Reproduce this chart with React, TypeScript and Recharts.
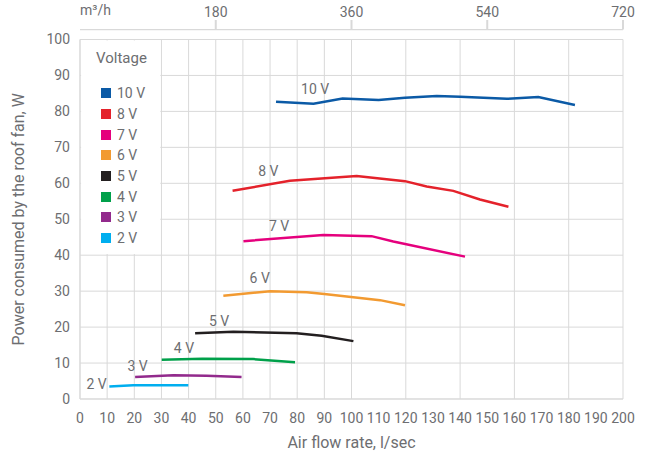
import React from 'react';
import {
  LineChart, Line, XAxis, YAxis, CartesianGrid,
  ReferenceArea, ReferenceDot, Legend,
} from 'recharts';

// series names + colours, same order as the legend
const voltages = ['10 V', '8 V', '7 V', '6 V', '5 V', '4 V', '3 V', '2 V'];
const colors = ['#0b5aa6', '#e4222b', '#e5007d', '#f29a31', '#231f20', '#00a04a', '#922a8c', '#00aeef'];

// air flow (l/sec) and power (W)
const flow10 = [72.2, 86, 96.7, 110, 119.7, 131.4, 140, 157.2, 168.8, 182.3];
const power10 = [82.7, 82.1, 83.6, 83.2, 83.8, 84.3, 84.1, 83.5, 84.0, 81.8];
const flow8 = [56.2, 77.3, 90.2, 101.9, 119.7, 127.7, 137.5, 147.3, 157.8];
const power8 = [57.9, 60.7, 61.4, 62.0, 60.6, 59.1, 57.9, 55.5, 53.5];
const flow7 = [60.2, 89.6, 107.4, 115.4, 141.8];
const power7 = [43.9, 45.6, 45.3, 43.8, 39.6];
const flow6 = [52.8, 70, 83.5, 90, 110.5, 119.7];
const power6 = [28.7, 30.0, 29.7, 29.2, 27.5, 26.1];
const flow5 = [42.4, 56.5, 79.8, 89, 100.7];
const power5 = [18.3, 18.7, 18.3, 17.6, 16.1];
const flow4 = [30.1, 45, 63.8, 79.2];
const power4 = [10.9, 11.2, 11.1, 10.2];
const flow3 = [20.3, 34.4, 46.6, 59.5];
const power3 = [6.1, 6.6, 6.5, 6.1];
const flow2 = [10.8, 19.6, 39.9];
const power2 = [3.5, 3.8, 3.8];

const flows = [flow10, flow8, flow7, flow6, flow5, flow4, flow3, flow2];
const powers = [power10, power8, power7, power6, power5, power4, power3, power2];

// where the "N V" captions sit next to each curve
const labelFlow = [86.6, 69.4, 73.3, 66.2, 51.2, 38.3, 21.2, 6.1];
const labelPower = [86.2, 63.4, 48.2, 33.7, 21.7, 14.1, 9.2, 4.1];

const xTicks = [0, 10, 20, 30, 40, 50, 60, 70, 80, 90, 100, 110, 120, 130, 140, 150, 160, 170, 180, 190, 200];
const yTicks = [0, 10, 20, 30, 40, 50, 60, 70, 80, 90, 100];
const topTicks = [50, 100, 150, 200];
const topTickLabels = ['180', '360', '540', '720'];

const GRID = '#d9d9d9';
const TEXT = '#6d6e71';
const FONT = 'Roboto, sans-serif';

const series = voltages.map((name, i) => ({
  name,
  color: colors[i],
  data: flows[i].map((x, j) => ({ x, y: powers[i][j] })),
}));

const LegendBox = () => (
  <div style={{ fontFamily: FONT, color: TEXT, fontSize: 14 }}>
    <div style={{ fontSize: 15, marginBottom: 16, marginLeft: 1 }}>Voltage</div>
    {series.map(s => (
      <div key={s.name} style={{ display: 'flex', alignItems: 'center', height: 20.7, marginLeft: 6 }}>
        <span style={{ width: 10, height: 10, background: s.color, display: 'inline-block', marginRight: 6 }} />
        <span>{s.name}</span>
      </div>
    ))}
  </div>
);

// top axis: m3/h tick, drawn 10px above the plot frame
const TopTick = (props: any) => {
  const { x, y, payload } = props;
  return (
    <g>
      <line x1={x} x2={x} y1={y - 10} y2={y - 19.5} stroke={GRID} strokeWidth={2} />
      <text x={x} y={y - 22.5} textAnchor="middle" fontSize={14} fill={TEXT} fontFamily={FONT}>
        {topTickLabels[topTicks.indexOf(payload.value)]}
      </text>
    </g>
  );
};

export default function App() {
  return (
    <div style={{ position: 'absolute', left: 0, top: 0, width: 645, height: 454, background: '#fff' }}>
      <div style={{ position: 'absolute', left: 80, top: 2, fontFamily: FONT, fontSize: 14, color: TEXT, zIndex: 2 }}>
        m³/h
      </div>
      <LineChart width={645} height={454} margin={{ top: 0, right: 22, bottom: 0, left: 0 }}
        style={{ fontFamily: FONT }}>
        <CartesianGrid stroke={GRID} strokeWidth={1} />
        <ReferenceArea x1={0.4} x2={29.6} y1={40.3} y2={99.7} fill="#fff" fillOpacity={1} stroke="none" ifOverflow="visible" />
        <XAxis
          dataKey="x" type="number" domain={[0, 200]} ticks={xTicks}
          height={55} tickSize={0} tickMargin={14}
          tick={{ fontSize: 14, fill: TEXT }}
          axisLine={{ stroke: GRID }} tickLine={false}
          label={{ value: 'Air flow rate, l/sec', position: 'insideBottom', offset: 6, fontSize: 16, fill: TEXT }}
        />
        <XAxis
          xAxisId="top" orientation="top" dataKey="x" type="number" domain={[0, 200]} ticks={topTicks}
          allowDataOverflow height={39.5} tickSize={0} tickMargin={0}
          tick={<TopTick />} axisLine={false} tickLine={false}
        />
        <YAxis
          type="number" domain={[0, 100]} ticks={yTicks}
          width={80} tickSize={0} tickMargin={10}
          tick={{ fontSize: 14, fill: TEXT }}
          axisLine={{ stroke: GRID }} tickLine={false}
          label={{ value: 'Power consumed by the roof fan, W', angle: -90, position: 'insideLeft', offset: 18, fontSize: 16, fill: TEXT, style: { textAnchor: 'middle' } }}
        />
        {/* top axis frame line, 10px above the plot */}
        <ReferenceArea xAxisId="top" x1={0} x2={200} y1={102.6} y2={102.9} fill={GRID} fillOpacity={1} stroke="none" ifOverflow="visible" />
        {series.map(s => (
          <Line key={s.name} data={s.data} dataKey="y" name={s.name} type="linear"
            stroke={s.color} strokeWidth={2.5} dot={false} activeDot={false}
            isAnimationActive={false} />
        ))}
        {/* keeps the top axis bound to data so it is drawn */}
        <Line xAxisId="top" data={series[0].data} dataKey="y" stroke="none" dot={false}
          activeDot={false} legendType="none" isAnimationActive={false} />
        {voltages.map((v, i) => (
          <ReferenceDot key={'lbl' + v} x={labelFlow[i]} y={labelPower[i]} r={0}
            fill="none" stroke="none"
            label={{ value: v, position: 'center', fontSize: 14, fill: TEXT }} />
        ))}
        <Legend layout="vertical" align="center" verticalAlign="middle"
          wrapperStyle={{ left: 95, top: 49, width: 70 }} content={() => <LegendBox />} />
      </LineChart>
    </div>
  );
}
